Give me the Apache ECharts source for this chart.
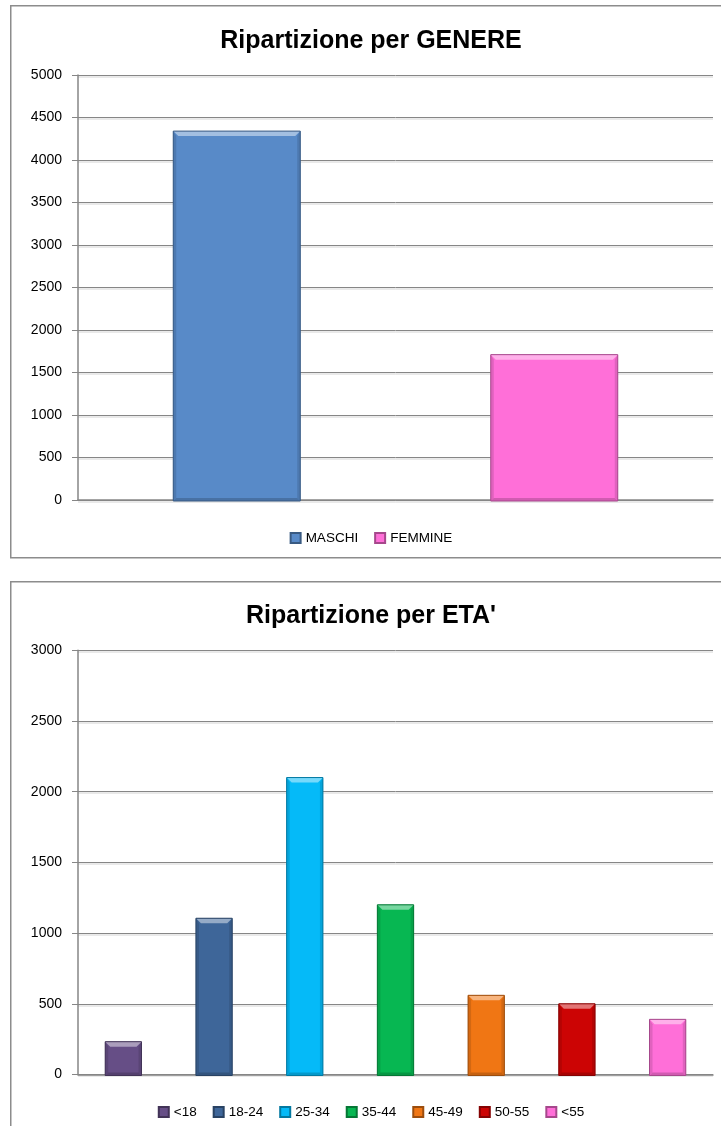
<!DOCTYPE html>
<html>
<head>
<meta charset="utf-8">
<script src="https://cdn.jsdelivr.net/npm/echarts@6/dist/echarts.min.js"></script>
<style>
  html, body { margin: 0; padding: 0; background: #fff; width: 721px; height: 1126px; overflow: hidden; position: relative; }
  .panel { position: absolute; }
  #gender { left: 10px; top: 5px; width: 722px; height: 554px; }
  #age { left: 10px; top: 581px; width: 722px; height: 545px; }
</style>
</head>
<body>
<div id="gender" class="panel"></div>
<div id="age" class="panel"></div>
<script>
// Gender breakdown
const genderTitle = 'Ripartizione per GENERE';
const genderCategories = ['MASCHI', 'FEMMINE'];
const genderValues = [4340, 1710];
const genderColors = ['#588AC8', '#FF6FD8'];
const genderTicks = { min: 0, max: 5000, interval: 500 };

// Age breakdown
const ageTitle = "Ripartizione per ETA'";
const ageCategories = ['<18', '18-24', '25-34', '35-44', '45-49', '50-55', '<55'];
const ageValues = [232, 1105, 2100, 1200, 560, 500, 390];
const ageColors = ['#664E86', '#3E6699', '#05BAF8', '#07B752', '#F07614', '#CC0404', '#FF6FD8'];
const ageTicks = { min: 0, max: 3000, interval: 500 };

const FONT = '"Liberation Sans", Arial, sans-serif';
const GRID_GRAY = '#868686';

function mix(hex, target, t) {
  const n = parseInt(hex.slice(1), 16);
  const r = (n >> 16) & 255, g = (n >> 8) & 255, b = n & 255;
  const m = (c) => Math.round(c + (target - c) * t);
  return 'rgb(' + m(r) + ',' + m(g) + ',' + m(b) + ')';
}

// Bevelled column: flat face, light top band, shaded sides and base.
function bevelRenderer(color) {
  const light = mix(color, 255, 0.45);
  const side = mix(color, 0, 0.12);
  const base = mix(color, 0, 0.18);
  const edge = mix(color, 0, 0.35);
  return function (params, api) {
    const top = api.coord([api.value(0), api.value(1)]);
    const bottom = api.coord([api.value(0), 0]);
    const w = api.size([1, 0])[0] * 0.4;
    const x = top[0] - w / 2, y = top[1], h = bottom[1] - top[1] + 1;
    const b = Math.min(5, h / 2), s = Math.min(3, w / 4);
    return {
      type: 'group',
      children: [
        { type: 'rect', shape: { x: x, y: y, width: w, height: h }, style: { fill: color } },
        { type: 'polygon', shape: { points: [[x, y], [x + s, y + b], [x + s, y + h - s], [x, y + h]] }, style: { fill: side } },
        { type: 'polygon', shape: { points: [[x + w, y], [x + w - s, y + b], [x + w - s, y + h - s], [x + w, y + h]] }, style: { fill: side } },
        { type: 'polygon', shape: { points: [[x, y + h], [x + s, y + h - s], [x + w - s, y + h - s], [x + w, y + h]] }, style: { fill: base } },
        { type: 'polygon', shape: { points: [[x, y], [x + w, y], [x + w - b, y + b], [x + b, y + b]] }, style: { fill: light } },
        { type: 'rect', shape: { x: x, y: y, width: w, height: h }, style: { fill: 'none', stroke: edge, lineWidth: 1 } }
      ]
    };
  };
}

function buildOption(title, categories, values, colors, ticks, gridTop, gridHeight, titleTop, legendTop, frameHeight) {
  return {
    animation: false,
    graphic: [{
      type: 'rect', silent: true, z: -1,
      shape: { x: 0.75, y: 0.75, width: 720, height: frameHeight },
      style: { fill: 'none', stroke: '#8C8C8C', lineWidth: 1.5 }
    }],
    title: {
      text: title, left: 'center', top: titleTop,
      textStyle: { fontFamily: FONT, fontSize: 25, fontWeight: 'bold', color: '#000' }
    },
    legend: {
      data: categories, top: legendTop, left: 'center',
      icon: 'rect', itemWidth: 10, itemHeight: 10, itemGap: 16,
      textStyle: { fontFamily: FONT, fontSize: 13.5, color: '#000' }
    },
    grid: { left: 68, top: gridTop, width: 635, height: gridHeight, containLabel: false },
    xAxis: {
      type: 'category', data: categories,
      axisLabel: { show: false }, axisTick: { show: false },
      axisLine: { show: true, lineStyle: { color: GRID_GRAY, width: 1.5 } }
    },
    yAxis: {
      type: 'value', min: ticks.min, max: ticks.max, interval: ticks.interval,
      axisLine: { show: true, lineStyle: { color: GRID_GRAY, width: 1.5 } },
      axisTick: { show: true, length: 6, lineStyle: { color: GRID_GRAY, width: 1 } },
      axisLabel: { margin: 16, fontFamily: FONT, fontSize: 14, color: '#000', formatter: (v) => String(v) },
      splitLine: { lineStyle: { color: GRID_GRAY, width: 1, shadowColor: '#D4D4D4', shadowOffsetY: 1.5, shadowBlur: 0 } }
    },
    series: categories.map((name, i) => ({
      type: 'custom', name: name,
      itemStyle: { color: colors[i], borderColor: mix(colors[i], 0, 0.35), borderWidth: 1 },
      renderItem: bevelRenderer(colors[i]),
      data: [[i, values[i]]],
      z: 3
    }))
  };
}

const genderChart = echarts.init(document.getElementById('gender'), null, { renderer: 'canvas' });
genderChart.setOption(buildOption(genderTitle, genderCategories, genderValues, genderColors, genderTicks,
  70, 425, 19, 521, 552));

const ageChart = echarts.init(document.getElementById('age'), null, { renderer: 'canvas' });
ageChart.setOption(buildOption(ageTitle, ageCategories, ageValues, ageColors, ageTicks,
  69.3, 424.2, 18, 519, 600));
</script>
</body>
</html>
